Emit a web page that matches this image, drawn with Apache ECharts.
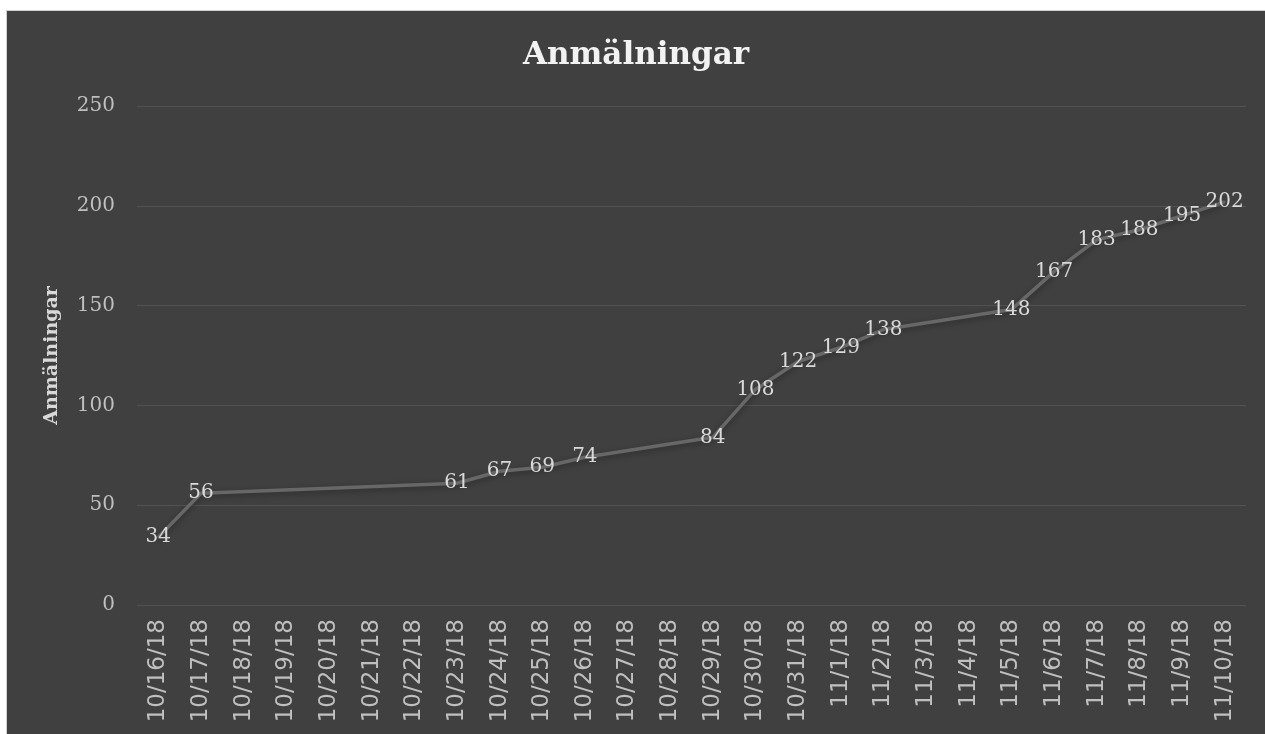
<!DOCTYPE html>
<html>
<head>
<meta charset="utf-8">
<script src="https://cdn.jsdelivr.net/npm/echarts@6/dist/echarts.min.js"></script>
<style>
  html, body { margin: 0; padding: 0; background: #fff; }
  .box { position: absolute; left: 6px; top: 10px; width: 1259px; height: 724px;
         border-left: 1px solid #d0d0d0; border-top: 1px solid #d0d0d0; box-sizing: border-box; }
</style>
</head>
<body>
<div class="box"></div>
<script>
// datum på x-axeln
var dates = ['10/16/18','10/17/18','10/18/18','10/19/18','10/20/18','10/21/18','10/22/18',
  '10/23/18','10/24/18','10/25/18','10/26/18','10/27/18','10/28/18','10/29/18','10/30/18',
  '10/31/18','11/1/18','11/2/18','11/3/18','11/4/18','11/5/18','11/6/18','11/7/18',
  '11/8/18','11/9/18','11/10/18'];
// antal anmälningar (null = ingen mätning den dagen)
var signups = [34, 56, null, null, null, null, null,
  61, 67, 69, 74, null, null, 84, 108,
  122, 129, 138, null, null, 148, 167, 183,
  188, 195, 202];
var yTicks = [0, 50, 100, 150, 200, 250];

var serif = "'DejaVu Serif', 'Liberation Serif', serif";
var mychart = echarts.init(document.querySelector(".box"));
var option = {
  backgroundColor: '#404040',
  title: {
    text: 'Anmälningar',
    left: 'center',
    top: 24,
    textStyle: { color: '#f2f2f2', fontFamily: serif, fontWeight: 'bold', fontSize: 31 }
  },
  grid: { left: 130, top: 95, right: 19, bottom: 129 },
  xAxis: {
    type: 'category',
    data: dates,
    boundaryGap: true,
    axisLine: { show: false },
    axisTick: { show: false },
    axisLabel: {
      rotate: 90,
      interval: 0,
      margin: 14,
      color: '#bfbfbf',
      fontFamily: "'DejaVu Sans', sans-serif",
      fontSize: 23
    }
  },
  yAxis: {
    type: 'value',
    min: yTicks[0],
    max: yTicks[yTicks.length - 1],
    interval: 50,
    name: 'Anmälningar',
    nameLocation: 'middle',
    nameGap: 75,
    nameTextStyle: { color: '#d9d9d9', fontFamily: serif, fontWeight: 'bold', fontSize: 19 },
    axisLine: { show: false },
    axisTick: { show: false },
    axisLabel: { color: '#bfbfbf', fontFamily: serif, fontSize: 20, margin: 22 },
    splitLine: { lineStyle: { color: '#525252', width: 1 } }
  },
  series: [{
    name: 'Anmälningar',
    type: 'line',
    data: signups,
    connectNulls: true,
    symbol: 'circle',
    symbolSize: 2,
    showSymbol: true,
    showAllSymbol: true,
    itemStyle: { color: '#676767' },
    lineStyle: {
      color: '#676767',
      width: 3.5,
      shadowColor: 'rgba(0,0,0,0.35)',
      shadowBlur: 6,
      shadowOffsetY: 2
    },
    label: {
      show: true,
      position: 'inside',
      color: '#d9d9d9',
      fontFamily: serif,
      fontSize: 20
    },
    emphasis: { disabled: true }
  }]
};
mychart.setOption(option);
window.addEventListener("resize", function() {
  mychart.resize();
});
</script>
</body>
</html>
